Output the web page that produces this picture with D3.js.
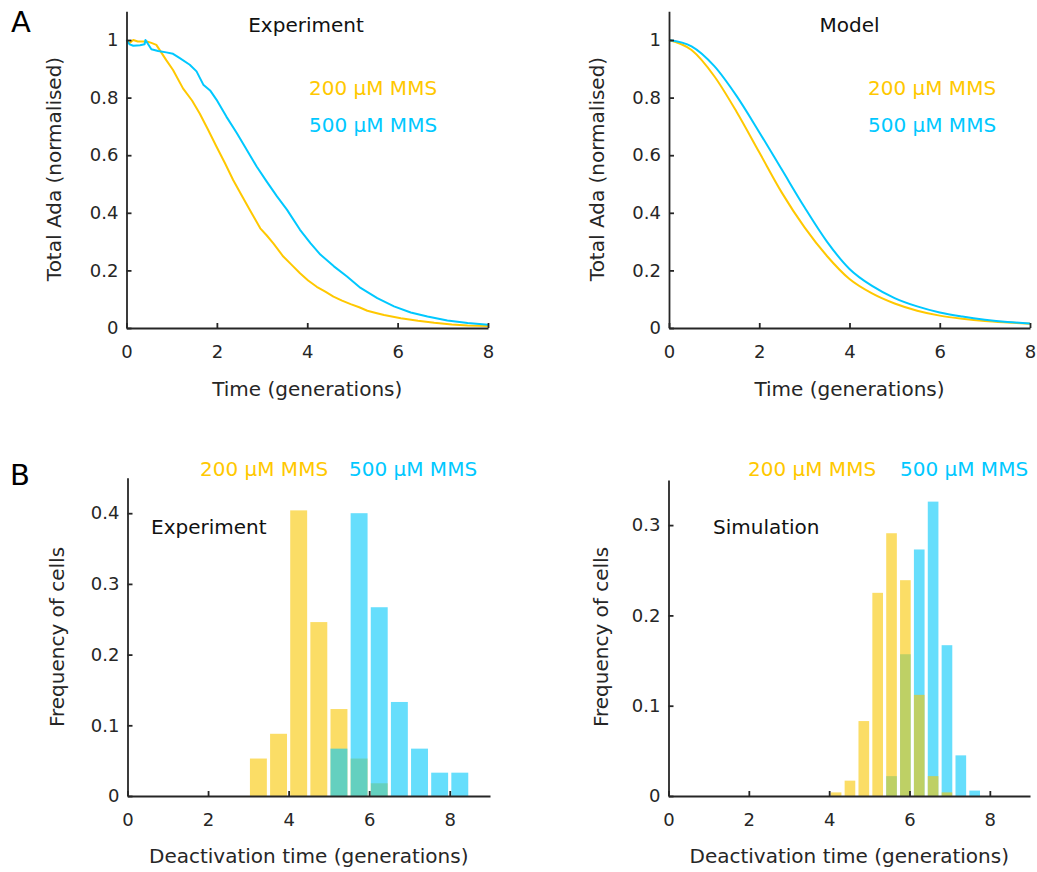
<!DOCTYPE html>
<html>
<head>
<meta charset="utf-8">
<script src="https://cdn.jsdelivr.net/npm/d3@7"></script>
<style>
  body { margin: 0; background: #fff; }
  svg { font-family: 'DejaVu Sans', Verdana, sans-serif; }
</style>
</head>
<body>
<div class="fig"></div>
<script>
// ---- data ----
const timeTicks = [0, 2, 4, 6, 8]
const adaTicks = [0, 0.2, 0.4, 0.6, 0.8, 1]

// Panel A, experiment: time (generations) and normalised total Ada
const expTime200 = [0, 0.07, 0.15, 0.25, 0.45, 0.55, 0.66, 0.88, 1.03, 1.25, 1.45, 1.62, 1.8, 1.99, 2.18, 2.36, 2.55, 2.73, 2.96, 3.1, 3.25, 3.47, 3.65, 3.84, 4.02, 4.21, 4.4, 4.58, 4.77, 4.96, 5.15, 5.33, 5.52, 5.7, 6.07, 6.45, 6.81, 7.2, 7.55, 8.0]
const expAda200 = [1.0, 0.99, 1.0, 0.995, 0.995, 0.99, 0.983, 0.93, 0.896, 0.832, 0.79, 0.745, 0.69, 0.63, 0.572, 0.514, 0.46, 0.41, 0.346, 0.322, 0.294, 0.248, 0.22, 0.19, 0.165, 0.143, 0.126, 0.109, 0.095, 0.083, 0.072, 0.06, 0.052, 0.045, 0.034, 0.025, 0.018, 0.012, 0.009, 0.007]
const expTime500 = [0, 0.07, 0.15, 0.3, 0.4, 0.42, 0.55, 0.7, 0.88, 1.03, 1.18, 1.4, 1.55, 1.7, 1.85, 1.99, 2.21, 2.44, 2.66, 2.88, 3.1, 3.33, 3.55, 3.84, 4.07, 4.29, 4.59, 4.88, 5.18, 5.55, 5.92, 6.29, 6.66, 7.1, 7.55, 8.0]
const expAda500 = [1.0, 0.985, 0.98, 0.982, 0.985, 1.0, 0.968, 0.962, 0.957, 0.952, 0.937, 0.914, 0.891, 0.845, 0.825, 0.793, 0.734, 0.677, 0.619, 0.561, 0.509, 0.457, 0.411, 0.341, 0.295, 0.255, 0.214, 0.179, 0.139, 0.104, 0.075, 0.054, 0.040, 0.026, 0.017, 0.011]

// Panel A, model (read every half generation)
const modelTime = [0, 0.5, 1.0, 1.5, 2.0, 2.5, 3.0, 3.5, 4.0, 4.5, 5.0, 5.5, 6.0, 6.5, 7.0, 7.5, 8.0]
const modelAda200 = [1.0, 0.965, 0.875, 0.75, 0.61, 0.47, 0.35, 0.25, 0.17, 0.12, 0.085, 0.06, 0.043, 0.032, 0.024, 0.019, 0.015]
const modelAda500 = [1.0, 0.978, 0.91, 0.805, 0.68, 0.55, 0.42, 0.30, 0.205, 0.146, 0.104, 0.075, 0.054, 0.04, 0.029, 0.021, 0.016]

// Panel B, experiment histogram (bin edges in generations, frequency per bin)
const expEdges = [3.0, 3.5, 4.0, 4.5, 5.0, 5.5, 6.0, 6.5, 7.0, 7.5, 8.0, 8.5]
const expFreq200 = [0.053, 0.088, 0.404, 0.246, 0.123, 0.053, 0.018, 0, 0, 0, 0]
const expFreq500 = [0, 0, 0, 0, 0.067, 0.400, 0.267, 0.133, 0.067, 0.033, 0.033]

// Panel B, simulation histogram
const simEdges = [4.0, 4.345, 4.69, 5.035, 5.38, 5.725, 6.07, 6.415, 6.76, 7.105, 7.45, 7.795]
const simFreq200 = [0.004, 0.017, 0.083, 0.225, 0.291, 0.239, 0.112, 0.022, 0.004, 0, 0]
const simFreq500 = [0, 0, 0, 0, 0.022, 0.157, 0.273, 0.326, 0.167, 0.045, 0.006]

const histXTicks = [0, 2, 4, 6, 8]
const expFreqTicks = [0, 0.1, 0.2, 0.3, 0.4]
const simFreqTicks = [0, 0.1, 0.2, 0.3]

const yellow = '#FFC800'
const cyan = '#00C8FF'
const barYellow = '#F8C600'
const barCyan = '#00C8FA'
const ink = '#262626'

const svg = d3.select('.fig').append('svg')
  .attr('width', 1037)
  .attr('height', 872)

svg.append('rect').attr('width', 1037).attr('height', 872).attr('fill', '#fff')

const fmt = d3.format('~g')

// draw a pair of inward-ticked axes (bottom + left, no box)
function axes (g, x, y, xTicks, yTicks) {
  const ax = g.append('g')
    .attr('transform', `translate(0,${y.range()[0]})`)
    .call(d3.axisBottom(x).tickValues(xTicks).tickFormat(fmt).tickSizeInner(-5).tickSizeOuter(0).tickPadding(17))
  const ay = g.append('g')
    .attr('transform', `translate(${x.range()[0]},0)`)
    .call(d3.axisLeft(y).tickValues(yTicks).tickFormat(fmt).tickSizeInner(-5).tickSizeOuter(0).tickPadding(8))
  for (const a of [ax, ay]) {
    a.select('.domain').attr('stroke', ink).attr('stroke-width', 1.8)
    a.selectAll('.tick line').attr('stroke', ink).attr('stroke-width', 1.8)
    a.selectAll('.tick text').attr('fill', ink).style('font-size', '18px')
    a.attr('font-family', null).attr('font-size', null)
  }
}

function label (txt, x, y, opts = {}) {
  const t = svg.append('text')
    .attr('x', x).attr('y', y)
    .attr('fill', opts.fill || ink)
    .style('font-size', (opts.size || 20) + 'px')
    .attr('text-anchor', opts.anchor || 'start')
    .text(txt)
  if (opts.rotate) t.attr('transform', `rotate(-90,${x},${y})`)
  return t
}

// ---- Panel A ----
function curvePanel (left, right, title, titleX, series, legendX, yLabelX) {
  const x = d3.scaleLinear().domain([0, 8]).range([left, right])
  const y = d3.scaleLinear().domain([0, 1.1]).range([328, 328 - 1.1 * 288])
  const g = svg.append('g')
  const line = d3.line().x(d => x(d[0])).y(d => y(d[1]))
  series.forEach(s => {
    g.append('path')
      .datum(d3.zip(s.t, s.v))
      .attr('fill', 'none')
      .attr('stroke', s.color)
      .attr('stroke-width', 2)
      .attr('stroke-linejoin', 'round')
      .attr('d', line.curve(s.smooth ? d3.curveMonotoneX : d3.curveLinear))
  })
  axes(g, x, y, timeTicks, adaTicks)
  label(title, titleX, 32, { anchor: 'middle', fill: '#111' })
  label('200 μM MMS', legendX, 95, { fill: yellow })
  label('500 μM MMS', legendX, 132, { fill: cyan })
  label('Time (generations)', (left + right) / 2, 396, { anchor: 'middle' })
  label('Total Ada (normalised)', yLabelX, 169, { anchor: 'middle', rotate: true })
}

curvePanel(126.5, 488, 'Experiment', 306, [
  { t: expTime200, v: expAda200, color: yellow },
  { t: expTime500, v: expAda500, color: cyan }
], 309, 61)

curvePanel(669, 1030, 'Model', 849.5, [
  { t: modelTime, v: modelAda200, color: yellow, smooth: true },
  { t: modelTime, v: modelAda500, color: cyan, smooth: true }
], 868, 604)

// ---- Panel B ----
function histPanel (left, right, yMax, pxPerUnit, yTicks, edges, first, second, tag, tagX, legendX, yLabelX) {
  const x = d3.scaleLinear().domain([0, 9]).range([left, right])
  const y = d3.scaleLinear().domain([0, yMax]).range([796, 796 - yMax * pxPerUnit])
  const g = svg.append('g')
  const inset = 1.6
  for (const s of [first, second]) {
    g.append('g').selectAll('rect')
      .data(s.freq.map((f, i) => ({ x0: edges[i], x1: edges[i + 1], f })).filter(d => d.f > 0))
      .join('rect')
      .attr('x', d => x(d.x0) + inset)
      .attr('width', d => x(d.x1) - x(d.x0) - 2 * inset)
      .attr('y', d => y(d.f))
      .attr('height', d => y(0) - y(d.f))
      .attr('fill', s.color)
      .attr('fill-opacity', 0.6)
  }
  axes(g, x, y, histXTicks, yTicks)
  label(tag, tagX, 534, { fill: '#111' })
  label('200 μM MMS', legendX[0], 476, { fill: yellow })
  label('500 μM MMS', legendX[1], 476, { fill: cyan })
  label('Deactivation time (generations)', (left + right) / 2, 863, { anchor: 'middle' })
  label('Frequency of cells', yLabelX, 637, { anchor: 'middle', rotate: true })
}

// experiment: 500 µM drawn over 200 µM; simulation: 200 µM drawn over 500 µM
histPanel(127.5, 490, 0.45, 707, expFreqTicks, expEdges,
  { freq: expFreq200, color: barYellow }, { freq: expFreq500, color: barCyan },
  'Experiment', 151, [200, 349], 64)

histPanel(668.5, 1030, 0.35, 903, simFreqTicks, simEdges,
  { freq: simFreq500, color: barCyan }, { freq: simFreq200, color: barYellow },
  'Simulation', 713, [748, 900], 608)

// panel letters
label('A', 11, 32, { size: 29, fill: '#000' })
label('B', 10, 485, { size: 29, fill: '#000' })
</script>
</body>
</html>
